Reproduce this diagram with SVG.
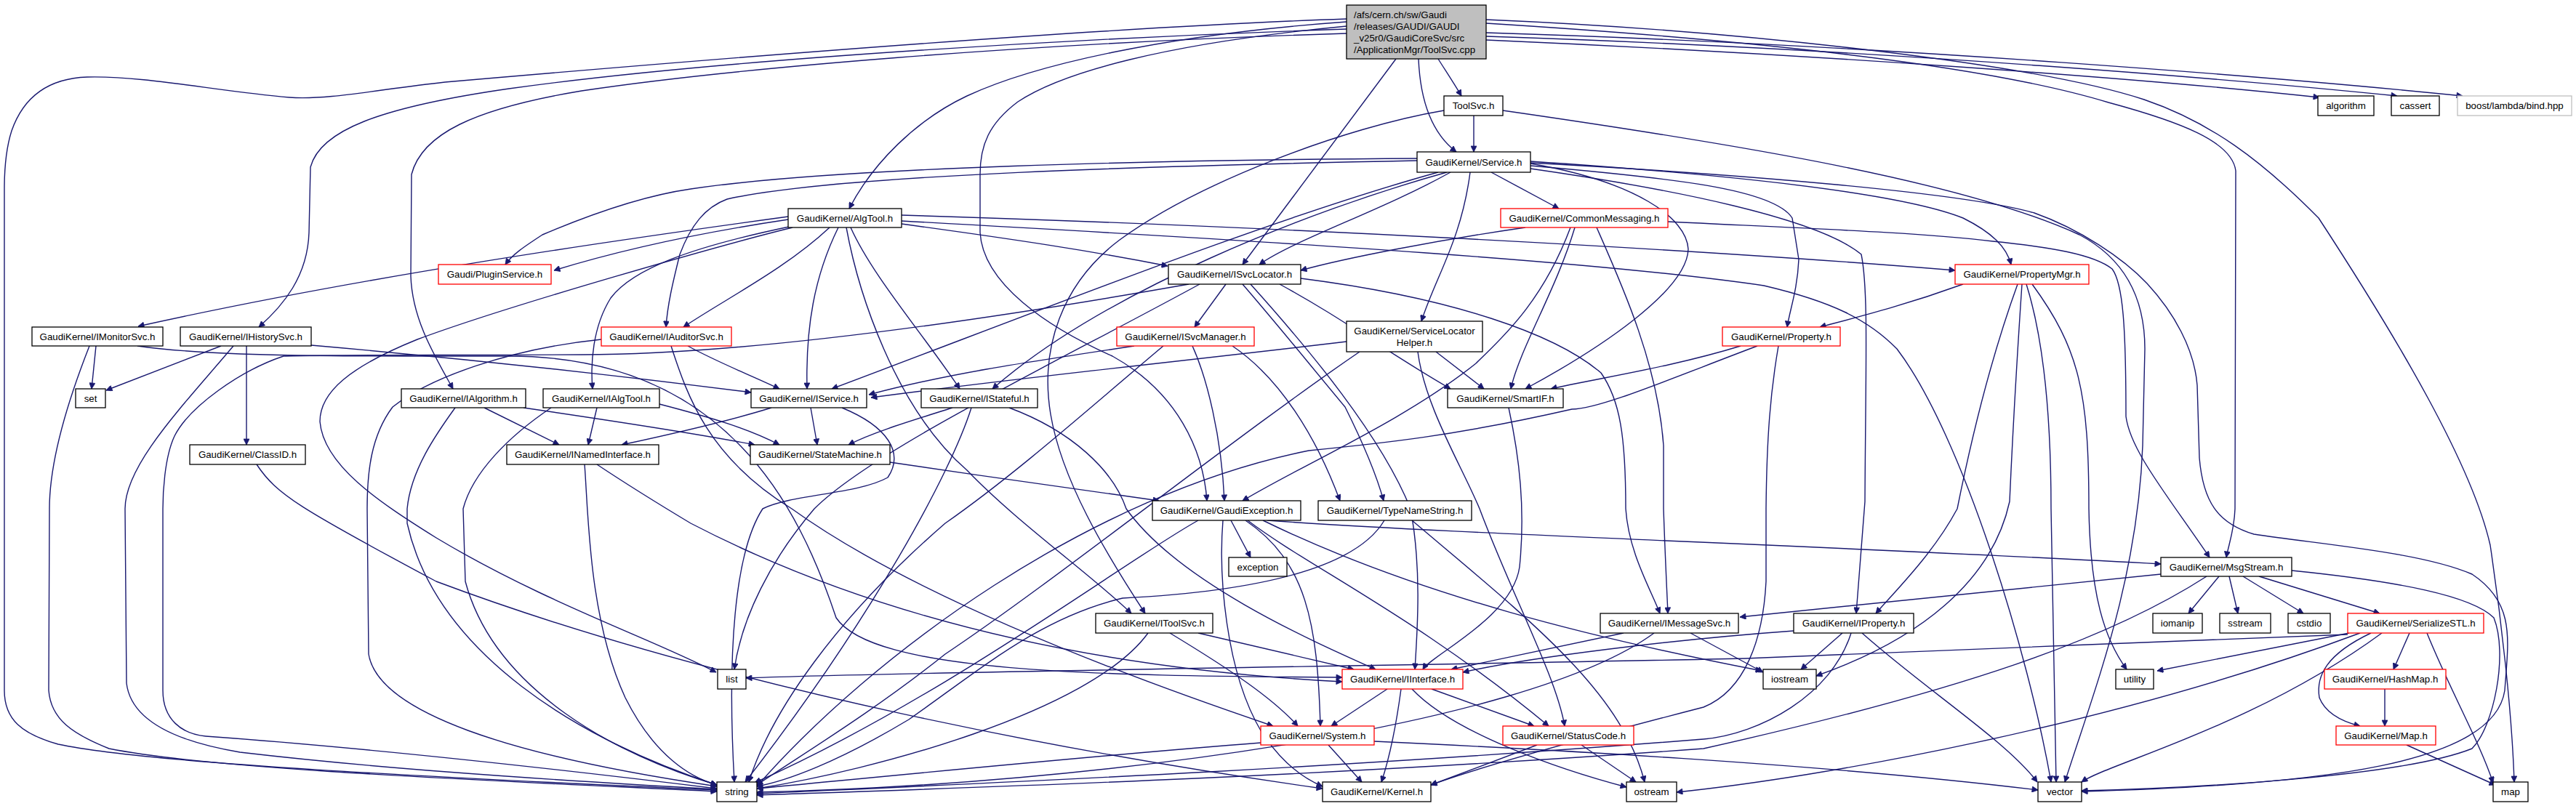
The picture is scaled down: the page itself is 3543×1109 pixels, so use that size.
<svg xmlns="http://www.w3.org/2000/svg" width="3543" height="1109" viewBox="0 0 3543 1109">
<style>
.e path{fill:none;stroke:#191970;stroke-width:1.4;marker-end:url(#a)}
.n rect{fill:#fff;stroke:#000;stroke-width:1.3}
.n.r rect{stroke:#ff0000}
.n.g rect{stroke:#bfbfbf}
.n.root rect{fill:#bfbfbf}
text{font-family:"Liberation Sans",Arial,Helvetica,sans-serif;font-size:13.3px;fill:#000;text-anchor:middle}
.root text{text-anchor:start}
</style>
<defs>
<marker id="a" viewBox="0 0 10 10" refX="10" refY="5" markerWidth="11" markerHeight="8" markerUnits="userSpaceOnUse" orient="auto"><path d="M0,0 L10,5 L0,10 z" fill="#191970" stroke="#191970"/></marker>
</defs>
<rect width="3543" height="1109" fill="#fff"/>
<g id="edges" class="e">
<path d="M1978,81 C1990,100 2000,115 2010,132"/>
<path d="M1951,81 C1953,130 1965,180 2003,209"/>
<path d="M1852,30 C1600,48 1420,90 1330,132 C1260,165 1200,225 1168,287"/>
<path d="M1852,36 C1600,60 1460,100 1400,140 C1360,170 1348,200 1348,240 L1348,320 C1352,390 1440,450 1530,490 C1620,540 1655,620 1660,689"/>
<path d="M1852,40 C1500,52 1000,80 700,122 C520,148 440,180 427,230 L425,320 C423,380 390,420 356,450"/>
<path d="M1852,46 C1400,60 1000,95 800,125 C650,150 580,185 566,240 L565,380 C567,440 598,490 623,535"/>
<path d="M1852,26 C1500,38 900,88 612,113 C520,123 450,138 398,134 C300,126 200,104 120,106 C60,108 30,140 16,180 C8,205 6,230 6,260 L6,950 C6,990 30,1010 80,1024 C200,1050 600,1070 986,1087"/>
<path d="M1920,81 L1709,364"/>
<path d="M2044,32 C2300,48 2700,80 2900,141 C3000,168 3070,195 3075,235 L3074,700 C3073,730 3065,750 3062,767"/>
<path d="M2044,27 C2400,42 2800,88 2949,137 C3040,168 3110,220 3189,300 C3300,470 3400,640 3425,750 C3440,850 3455,980 3458,1076"/>
<path d="M2044,55 C2500,75 2950,108 3190,134"/>
<path d="M2044,50 C2600,68 3100,112 3297,132"/>
<path d="M2044,45 C2600,62 3150,108 3387,132"/>
<path d="M2027,159 L2027,209"/>
<path d="M1986,152 C1850,175 1650,250 1540,330 C1460,390 1430,480 1445,570 C1460,660 1520,760 1575,844"/>
<path d="M2067,152 C2400,200 2700,250 2860,323 C2930,360 2950,420 2950,480 L2947,613 C2940,800 2880,950 2840,1076"/>
<path d="M2051,237 L2144,287"/>
<path d="M1978,237 C1750,300 1450,420 1144,535"/>
<path d="M1990,237 C1800,290 1520,400 1365,535"/>
<path d="M1995,237 C1900,290 1780,330 1732,364"/>
<path d="M2022,237 C2010,330 1975,380 1955,442"/>
<path d="M2105,225 C2250,250 2320,300 2322,343 C2320,400 2200,480 2098,535"/>
<path d="M2105,222 C2300,235 2600,260 2700,300 C2740,320 2760,340 2766,364"/>
<path d="M2105,228 C2300,245 2440,260 2465,300 L2474,357 C2472,400 2462,425 2458,450"/>
<path d="M2105,232 C2300,260 2500,300 2560,350 C2570,400 2566,500 2565,690 L2553,844"/>
<path d="M1949,221 C1600,228 1150,240 1000,274 C970,285 950,310 935,350 C925,390 918,420 916,450"/>
<path d="M1949,218 C1600,220 1150,230 950,260 C880,270 800,300 746,323 C720,340 705,350 695,364"/>
<path d="M2294,305 C2500,315 2640,320 2741,332 C2820,340 2880,350 2905,370 C2920,390 2924,450 2924,573 C2930,620 2980,680 3039,767"/>
<path d="M2105,224 C2400,240 2700,265 2798,293 C2860,315 2920,355 2953,390 C2990,430 3018,480 3022,530 L3025,630 C3030,690 3050,720 3100,735 C3200,750 3330,760 3400,790 C3460,830 3450,880 3445,950 C3430,1050 3200,1080 2863,1089"/>
<path d="M1084,302 C950,322 850,345 762,372"/>
<path d="M1084,298 C850,330 500,380 190,449"/>
<path d="M1141,313 C1080,370 1000,410 940,450"/>
<path d="M1153,313 C1120,380 1108,450 1110,535"/>
<path d="M1170,313 C1200,380 1270,460 1320,535"/>
<path d="M1240,308 C1400,330 1500,345 1606,366"/>
<path d="M1164,313 C1180,400 1230,560 1330,647 C1400,720 1500,790 1556,844"/>
<path d="M1090,313 C1000,335 700,420 574,467 C480,505 440,540 440,580 C445,640 520,690 600,740 C750,830 900,880 985,925"/>
<path d="M1090,311 C950,340 870,370 840,410 C815,450 812,500 815,535"/>
<path d="M1240,296 C1700,310 2300,340 2689,372"/>
<path d="M1240,304 C1800,335 2200,360 2426,393 C2520,415 2570,440 2609,480 C2700,600 2790,900 2821,1076"/>
<path d="M2098,313 C1980,330 1850,355 1789,372"/>
<path d="M2196,313 C2230,390 2280,500 2288,613 L2288,700 C2290,760 2292,800 2294,844"/>
<path d="M2166,313 C2140,400 2090,480 2078,535"/>
<path d="M2160,313 C2120,420 2060,470 2030,500 C1930,580 1790,640 1709,689"/>
<path d="M1686,391 L1643,450"/>
<path d="M1635,391 C1300,450 1000,488 800,488 C600,489 450,488 390,490 C330,510 260,560 240,600 C226,630 224,680 224,700 L224,950 C224,990 250,1010 283,1013 C450,1025 700,1050 986,1085"/>
<path d="M1760,391 C1850,440 1900,480 1995,535"/>
<path d="M1709,391 C1760,450 1800,500 1850,560 C1880,620 1895,660 1903,689"/>
<path d="M1720,391 C1800,480 1900,600 1940,700 C1955,780 1950,860 1946,921"/>
<path d="M1789,383 C2000,410 2140,460 2202,513 C2228,550 2236,600 2236,700 C2240,760 2270,810 2283,844"/>
<path d="M1650,391 C1450,500 1200,620 1120,700 C1060,770 1020,850 1010,921"/>
<path d="M1560,476 C1400,500 1300,515 1195,543"/>
<path d="M1600,476 C1500,560 1400,650 1300,720 C1150,850 1060,980 1030,1076"/>
<path d="M1640,476 C1660,520 1680,600 1684,689"/>
<path d="M1695,476 C1760,520 1810,600 1843,689"/>
<path d="M1852,470 C1600,500 1400,520 1198,547"/>
<path d="M1975,484 L2041,535"/>
<path d="M1950,484 C1960,560 2010,640 2035,700 C2080,820 2140,930 2152,999"/>
<path d="M1870,484 C1700,600 1450,800 1300,900 C1200,980 1100,1040 1041,1080"/>
<path d="M2394,476 C2300,505 2200,520 2133,535"/>
<path d="M2417,476 C2300,520 2200,563 2162,563 C2000,600 1900,610 1800,620 C1500,680 1200,900 1041,1082"/>
<path d="M2446,476 C2435,540 2430,600 2429,700 L2429,800 C2425,880 2400,950 2343,973 C2200,1010 2050,1050 1968,1080"/>
<path d="M2700,391 C2620,420 2560,435 2503,450"/>
<path d="M2775,391 C2750,460 2720,560 2692,700 C2660,760 2610,810 2580,844"/>
<path d="M2781,391 C2775,480 2768,600 2764,690 C2740,800 2640,880 2498,930"/>
<path d="M2787,391 C2815,480 2821,600 2821,700 L2828,1076"/>
<path d="M2795,391 C2860,480 2873,540 2873,700 C2875,820 2895,880 2925,921"/>
<path d="M132,476 L126,535"/>
<path d="M123,476 C90,560 68,640 68,700 L67,950 C70,990 100,1010 150,1030 C300,1060 700,1075 986,1089"/>
<path d="M189,476 C300,492 500,490 700,490 C1000,490 1100,700 1150,850 C1200,925 1500,930 1846,932"/>
<path d="M304,476 L146,537"/>
<path d="M339,476 L339,612"/>
<path d="M321,476 C250,560 172,640 172,700 L174,940 C180,990 240,1020 330,1035 C500,1055 700,1070 986,1086"/>
<path d="M428,475 C600,490 800,510 1033,540"/>
<path d="M946,476 C990,500 1030,515 1072,535"/>
<path d="M827,467 C700,480 590,520 540,560 C510,600 505,650 505,700 L507,900 C520,980 700,1040 986,1082"/>
<path d="M923,476 C946,547 975,630 1089,700 C1200,780 1400,880 1751,999"/>
<path d="M666,561 L769,612"/>
<path d="M626,561 C600,597 565,647 560,700 L560,720 C600,900 800,1020 986,1080"/>
<path d="M720,561 C850,580 950,595 1038,612"/>
<path d="M821,561 L809,612"/>
<path d="M758,561 C700,600 650,650 637,700 L640,800 C680,950 850,1040 986,1080"/>
<path d="M907,556 C980,575 1030,590 1072,612"/>
<path d="M1115,561 L1124,612"/>
<path d="M1061,561 C1000,580 920,598 855,612"/>
<path d="M1158,561 C1221,587 1244,623 1221,657 C1180,680 1089,680 1049,700 C1010,760 1000,900 1010,1076"/>
<path d="M1310,561 C1250,580 1200,595 1167,612"/>
<path d="M1388,561 C1474,593 1531,647 1549,700 C1620,800 1800,880 1892,921"/>
<path d="M1336,561 C1308,650 1200,850 1025,1076"/>
<path d="M2075,561 C2090,630 2098,700 2090,780 C2080,850 1970,900 1957,921"/>
<path d="M353,639 C380,680 413,700 600,800 C1000,950 1500,1040 1819,1085"/>
<path d="M804,639 C809,700 809,850 860,960 C900,1040 950,1070 986,1080"/>
<path d="M821,639 C860,665 900,690 950,720 C1200,850 1500,920 1846,938"/>
<path d="M1224,636 C1350,655 1500,675 1594,689"/>
<path d="M1693,716 L1720,767"/>
<path d="M1682,716 C1676,790 1685,923 1735,1007 C1760,1045 1790,1070 1819,1082"/>
<path d="M1713,716 C1797,773 1812,857 1816,999"/>
<path d="M1716,716 C1800,780 1950,850 2130,999"/>
<path d="M1648,716 C1550,770 1300,960 1038,1077"/>
<path d="M1743,716 C2000,735 2500,750 2972,776"/>
<path d="M1737,716 C1950,820 2200,880 2423,923"/>
<path d="M1904,716 C1860,790 1700,815 1544,823 C1430,850 1350,920 1250,990 C1150,1050 1080,1075 1041,1082"/>
<path d="M1942,716 C2100,850 2230,950 2262,1076"/>
<path d="M1648,871 L1862,921"/>
<path d="M1609,871 C1690,920 1750,960 1785,999"/>
<path d="M1579,871 C1500,980 1200,1060 1041,1085"/>
<path d="M2233,871 L1996,921"/>
<path d="M2325,871 L2425,925"/>
<path d="M2275,871 C2100,1000 1500,1080 1041,1090"/>
<path d="M2467,868 C2300,880 2100,905 2012,925"/>
<path d="M2534,871 L2477,921"/>
<path d="M2561,871 C2650,950 2760,1020 2802,1076"/>
<path d="M2546,871 C2519,957 2420,1010 2343,1017 C1800,1060 1300,1080 1041,1092"/>
<path d="M2972,790 L2393,849"/>
<path d="M3052,793 L3010,844"/>
<path d="M3066,793 L3078,844"/>
<path d="M3085,793 L3168,844"/>
<path d="M3107,793 L3273,844"/>
<path d="M3035,793 C2900,880 2700,950 2343,1030 C1800,1070 1300,1085 1041,1094"/>
<path d="M3152,785 C3300,800 3400,820 3430,850 C3450,900 3430,1000 3400,1030 C3300,1070 3000,1085 2863,1088"/>
<path d="M3229,873 C3000,880 2600,900 2400,906 C2000,915 1200,925 1026,933"/>
<path d="M3231,871 L2967,923"/>
<path d="M3276,871 C3100,1000 2900,1050 2863,1076"/>
<path d="M3314,871 L3292,921"/>
<path d="M3261,871 C3200,900 3185,930 3190,960 C3200,985 3230,995 3246,999"/>
<path d="M3338,871 C3370,950 3410,1020 3429,1077"/>
<path d="M3246,871 C2900,1000 2500,1070 2306,1090"/>
<path d="M3280,948 L3280,999"/>
<path d="M3310,1025 L3432,1080"/>
<path d="M1908,948 L1831,999"/>
<path d="M1927,948 C1920,1000 1912,1040 1900,1076"/>
<path d="M1969,948 L2110,999"/>
<path d="M1942,948 C2000,1010 2150,1060 2237,1083"/>
<path d="M1827,1025 L1873,1076"/>
<path d="M1734,1022 C1500,1040 1200,1070 1041,1085"/>
<path d="M1890,1020 C2100,1030 2500,1050 2803,1087"/>
<path d="M2114,1025 L1968,1080"/>
<path d="M2175,1025 L2250,1076"/>
</g>
<g id="n_root" class="n root"><rect x="1852" y="7" width="192" height="74"/><text x="1862" y="25">/afs/cern.ch/sw/Gaudi</text><text x="1862" y="41">/releases/GAUDI/GAUDI</text><text x="1862" y="57">_v25r0/GaudiCoreSvc/src</text><text x="1862" y="73">/ApplicationMgr/ToolSvc.cpp</text></g>
<g id="n_toolsvc" class="n"><rect x="1986" y="132" width="81" height="27"/><text x="2026.5" y="150">ToolSvc.h</text></g>
<g id="n_service" class="n"><rect x="1949" y="209" width="156" height="28"/><text x="2027" y="228">GaudiKernel/Service.h</text></g>
<g id="n_algorithm" class="n"><rect x="3188" y="132" width="77" height="27"/><text x="3226.5" y="150">algorithm</text></g>
<g id="n_cassert" class="n"><rect x="3289" y="132" width="66" height="27"/><text x="3322" y="150">cassert</text></g>
<g id="n_bind" class="n g"><rect x="3380" y="132" width="157" height="27"/><text x="3458.5" y="150">boost/lambda/bind.hpp</text></g>
<g id="n_algtool" class="n"><rect x="1084" y="287" width="156" height="26"/><text x="1162" y="305">GaudiKernel/AlgTool.h</text></g>
<g id="n_commonmessaging" class="n r"><rect x="2064" y="287" width="230" height="26"/><text x="2179" y="305">GaudiKernel/CommonMessaging.h</text></g>
<g id="n_pluginservice" class="n r"><rect x="603" y="364" width="155" height="27"/><text x="680.5" y="382">Gaudi/PluginService.h</text></g>
<g id="n_isvclocator" class="n"><rect x="1607" y="364" width="182" height="27"/><text x="1698" y="382">GaudiKernel/ISvcLocator.h</text></g>
<g id="n_propertymgr" class="n r"><rect x="2689" y="364" width="184" height="27"/><text x="2781" y="382">GaudiKernel/PropertyMgr.h</text></g>
<g id="n_imonitorsvc" class="n"><rect x="44" y="450" width="180" height="26"/><text x="134" y="468">GaudiKernel/IMonitorSvc.h</text></g>
<g id="n_ihistorysvc" class="n"><rect x="248" y="450" width="180" height="26"/><text x="338" y="468">GaudiKernel/IHistorySvc.h</text></g>
<g id="n_iauditorsvc" class="n r"><rect x="827" y="450" width="179" height="26"/><text x="916.5" y="468">GaudiKernel/IAuditorSvc.h</text></g>
<g id="n_isvcmanager" class="n r"><rect x="1536" y="450" width="189" height="26"/><text x="1630.5" y="468">GaudiKernel/ISvcManager.h</text></g>
<g id="n_servicelocatorhelper" class="n"><rect x="1852" y="442" width="187" height="42"/><text x="1945.5" y="460">GaudiKernel/ServiceLocator</text><text x="1945.5" y="476">Helper.h</text></g>
<g id="n_property" class="n r"><rect x="2369" y="450" width="162" height="26"/><text x="2450" y="468">GaudiKernel/Property.h</text></g>
<g id="n_set" class="n"><rect x="104" y="535" width="41" height="26"/><text x="124.5" y="553">set</text></g>
<g id="n_ialgorithm" class="n"><rect x="552" y="535" width="171" height="26"/><text x="637.5" y="553">GaudiKernel/IAlgorithm.h</text></g>
<g id="n_ialgtool" class="n"><rect x="747" y="535" width="160" height="26"/><text x="827" y="553">GaudiKernel/IAlgTool.h</text></g>
<g id="n_iservice" class="n"><rect x="1033" y="535" width="159" height="26"/><text x="1112.5" y="553">GaudiKernel/IService.h</text></g>
<g id="n_istateful" class="n"><rect x="1267" y="535" width="160" height="26"/><text x="1347" y="553">GaudiKernel/IStateful.h</text></g>
<g id="n_smartif" class="n"><rect x="1991" y="535" width="159" height="26"/><text x="2070.5" y="553">GaudiKernel/SmartIF.h</text></g>
<g id="n_classid" class="n"><rect x="261" y="612" width="159" height="27"/><text x="340.5" y="630">GaudiKernel/ClassID.h</text></g>
<g id="n_inamedinterface" class="n"><rect x="697" y="612" width="209" height="27"/><text x="801.5" y="630">GaudiKernel/INamedInterface.h</text></g>
<g id="n_statemachine" class="n"><rect x="1032" y="612" width="192" height="27"/><text x="1128" y="630">GaudiKernel/StateMachine.h</text></g>
<g id="n_gaudiexception" class="n"><rect x="1585" y="689" width="204" height="27"/><text x="1687" y="707">GaudiKernel/GaudiException.h</text></g>
<g id="n_typenamestring" class="n"><rect x="1813" y="689" width="211" height="27"/><text x="1918.5" y="707">GaudiKernel/TypeNameString.h</text></g>
<g id="n_exception" class="n"><rect x="1690" y="767" width="80" height="26"/><text x="1730" y="785">exception</text></g>
<g id="n_msgstream" class="n"><rect x="2972" y="767" width="180" height="26"/><text x="3062" y="785">GaudiKernel/MsgStream.h</text></g>
<g id="n_itoolsvc" class="n"><rect x="1507" y="844" width="161" height="27"/><text x="1587.5" y="862">GaudiKernel/IToolSvc.h</text></g>
<g id="n_imessagesvc" class="n"><rect x="2201" y="844" width="190" height="27"/><text x="2296" y="862">GaudiKernel/IMessageSvc.h</text></g>
<g id="n_iproperty" class="n"><rect x="2467" y="844" width="165" height="27"/><text x="2549.5" y="862">GaudiKernel/IProperty.h</text></g>
<g id="n_iomanip" class="n"><rect x="2961" y="844" width="68" height="27"/><text x="2995" y="862">iomanip</text></g>
<g id="n_sstream" class="n"><rect x="3053" y="844" width="70" height="27"/><text x="3088" y="862">sstream</text></g>
<g id="n_cstdio" class="n"><rect x="3147" y="844" width="58" height="27"/><text x="3176" y="862">cstdio</text></g>
<g id="n_serializestl" class="n r"><rect x="3229" y="844" width="187" height="27"/><text x="3322.5" y="862">GaudiKernel/SerializeSTL.h</text></g>
<g id="n_list" class="n"><rect x="987" y="921" width="39" height="27"/><text x="1006.5" y="939">list</text></g>
<g id="n_iinterface" class="n r"><rect x="1846" y="921" width="166" height="27"/><text x="1929" y="939">GaudiKernel/IInterface.h</text></g>
<g id="n_iostream" class="n"><rect x="2425" y="921" width="73" height="27"/><text x="2461.5" y="939">iostream</text></g>
<g id="n_utility" class="n"><rect x="2910" y="921" width="52" height="27"/><text x="2936" y="939">utility</text></g>
<g id="n_hashmap" class="n r"><rect x="3197" y="921" width="167" height="27"/><text x="3280.5" y="939">GaudiKernel/HashMap.h</text></g>
<g id="n_system" class="n r"><rect x="1734" y="999" width="156" height="26"/><text x="1812" y="1017">GaudiKernel/System.h</text></g>
<g id="n_statuscode" class="n r"><rect x="2067" y="999" width="180" height="26"/><text x="2157" y="1017">GaudiKernel/StatusCode.h</text></g>
<g id="n_maph" class="n r"><rect x="3213" y="999" width="137" height="26"/><text x="3281.5" y="1017">GaudiKernel/Map.h</text></g>
<g id="n_string" class="n"><rect x="986" y="1076" width="55" height="27"/><text x="1013.5" y="1094">string</text></g>
<g id="n_kernel" class="n"><rect x="1819" y="1076" width="149" height="27"/><text x="1893.5" y="1094">GaudiKernel/Kernel.h</text></g>
<g id="n_ostream" class="n"><rect x="2237" y="1076" width="69" height="27"/><text x="2271.5" y="1094">ostream</text></g>
<g id="n_vector" class="n"><rect x="2803" y="1076" width="60" height="27"/><text x="2833" y="1094">vector</text></g>
<g id="n_map" class="n"><rect x="3429" y="1076" width="48" height="27"/><text x="3453" y="1094">map</text></g>
</svg>
